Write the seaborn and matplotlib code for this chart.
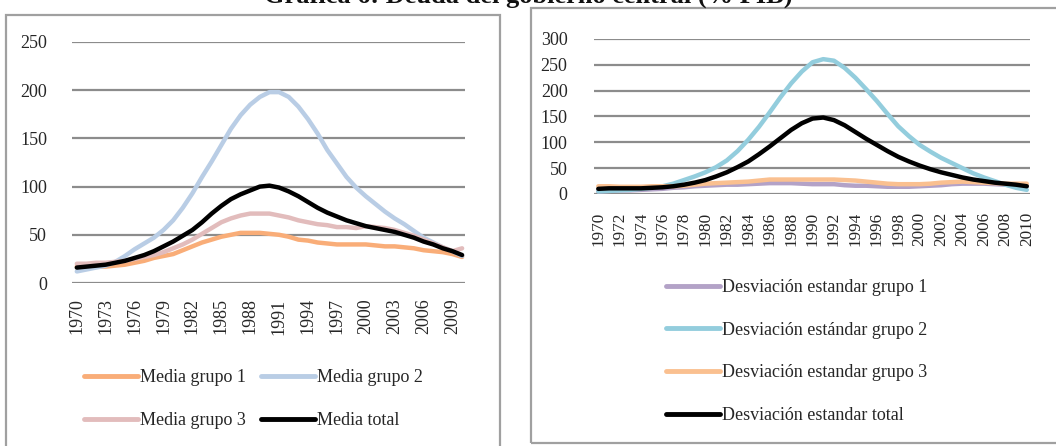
import matplotlib
matplotlib.use("Agg")
import matplotlib.pyplot as plt
import seaborn as sns
from matplotlib.patches import Rectangle
from matplotlib.lines import Line2D

sns.set_style("white")
plt.rcParams['font.family'] = ['Liberation Serif', 'DejaVu Serif']

# datos (1970-2010)
years = list(range(1970, 2011))

media_g1 = [17, 17, 17, 17, 18, 19, 21, 23, 26, 28, 30, 34, 38, 42, 45, 48, 50, 52, 52, 52,
            51, 50, 48, 45, 44, 42, 41, 40, 40, 40, 40, 39, 38, 38, 37, 36, 34, 33, 32, 30, 27]
media_g2 = [12, 14, 16, 18, 22, 28, 35, 41, 47, 55, 65, 78, 93, 110, 126, 143, 160, 174, 185, 193,
            198, 198, 193, 183, 170, 155, 138, 124, 110, 99, 90, 82, 74, 67, 61, 54, 47, 42, 37, 33, 28]
media_g3 = [20, 20, 21, 21, 22, 23, 25, 27, 29, 32, 36, 40, 45, 51, 57, 63, 67, 70, 72, 72,
            72, 70, 68, 65, 63, 61, 60, 58, 58, 57, 59, 58, 57, 55, 52, 49, 45, 41, 37, 33, 36]
media_total = [16, 17, 18, 19, 21, 23, 26, 29, 33, 38, 43, 49, 55, 63, 72, 80, 87, 92, 96, 100,
               101, 99, 95, 90, 84, 78, 73, 69, 65, 62, 59, 57, 55, 53, 50, 47, 43, 40, 36, 33, 29]

sd_g1 = [5, 6, 7, 7, 8, 9, 10, 12, 13, 15, 16, 17, 18, 18, 19, 20, 21, 21, 21, 20,
         19, 19, 19, 17, 16, 16, 15, 14, 14, 14, 15, 16, 17, 19, 20, 20, 20, 19, 18, 16, 15]
sd_g2 = [5, 6, 7, 8, 10, 12, 15, 20, 27, 34, 42, 52, 65, 83, 105, 130, 158, 187, 214, 237,
         255, 261, 258, 244, 225, 203, 180, 155, 131, 112, 95, 82, 70, 60, 50, 40, 32, 25, 18, 12, 8]
sd_g3 = [15, 15, 14, 14, 14, 15, 15, 15, 16, 18, 20, 21, 22, 23, 24, 26, 28, 28, 28, 28,
         28, 28, 28, 27, 26, 24, 22, 20, 19, 19, 19, 20, 22, 23, 24, 23, 22, 21, 20, 20, 20]
sd_total = [10, 11, 11, 11, 11, 12, 13, 15, 18, 22, 27, 34, 42, 52, 63, 77, 92, 108, 124, 137,
            146, 148, 143, 133, 120, 107, 95, 83, 72, 63, 55, 48, 42, 37, 32, 28, 25, 22, 20, 18, 15]

idx = list(range(len(years)))
txt = '#262626'
grid = '#8c8c8c'
fs = 13

fig = plt.figure(figsize=(10.56, 4.46), dpi=100)

# marcos de cada panel
fig.patches.append(Rectangle((6 / 1056, -0.01), 494 / 1056, 1 - 15 / 446 + 0.01,
                             transform=fig.transFigure, fill=False, ec='#a0a0a0', lw=1.6))
fig.patches.append(Rectangle((531 / 1056, 1 - 443 / 446), 540 / 1056, 435 / 446,
                             transform=fig.transFigure, fill=False, ec='#a0a0a0', lw=1.6))

# titulo (cortado arriba como en la imagen original)
fig.text(0.5, 1 - 3 / 446, 'Gráfica 6: Deuda del gobierno central (% PIB)', ha='center',
         va='baseline', fontsize=19, fontweight='bold', color='#111')

ax1 = fig.add_axes([72 / 1056, 1 - 283 / 446, 393 / 1056, 241 / 446])
ax2 = fig.add_axes([594 / 1056, 1 - 194 / 446, 436 / 1056, 155 / 446])

left_series = [(media_g1, '#f9ad78', 'Media grupo 1'),
               (media_g2, '#b9cde5', 'Media grupo 2'),
               (media_g3, '#e2bcbc', 'Media grupo 3'),
               (media_total, '#000000', 'Media total')]
right_series = [(sd_g1, '#b3a2c7', 'Desviación estandar grupo 1'),
                (sd_g2, '#93cddd', 'Desviación estándar grupo 2'),
                (sd_g3, '#fac090', 'Desviación estandar grupo 3'),
                (sd_total, '#000000', 'Desviación estandar total')]

for ax, series in [(ax1, left_series), (ax2, right_series)]:
    for vals, col, lab in series:
        sns.lineplot(x=idx, y=vals, ax=ax, color=col, lw=3.2, solid_capstyle='round')
    for s in ax.spines.values():
        s.set_visible(False)
    ax.grid(axis='y', color=grid, lw=1.6)
    ax.set_axisbelow(True)
    ax.tick_params(length=0, labelsize=fs, colors=txt)

ax1.set_xlim(-0.5, 40.3)
ax1.set_ylim(0, 250)
ax1.set_yticks(range(0, 251, 50))
ax1.set_xticks(idx[::3])
ax1.set_xticklabels([str(y) for y in years[::3]], rotation=90)
ax1.tick_params(axis='y', pad=18)
ax1.tick_params(axis='x', pad=11)

ax2.set_xlim(-0.4, 40.3)
ax2.set_ylim(0, 300)
ax2.set_yticks(range(0, 301, 50))
ax2.set_xticks(idx[::2])
ax2.set_xticklabels([str(y) for y in years[::2]], rotation=90)
ax2.tick_params(axis='y', pad=19)
ax2.tick_params(axis='x', pad=13, labelsize=12.3)

# leyendas
h1 = [Line2D([], [], color=c, lw=3.5, solid_capstyle='round') for _, c, _ in left_series]
l1 = [lab for _, _, lab in left_series]
order = [0, 2, 1, 3]
leg1 = fig.legend([h1[i] for i in order], [l1[i] for i in order], ncol=2, frameon=False,
                  loc='upper left', bbox_to_anchor=(84 / 1056, 1 - 369 / 446),
                  borderaxespad=0, borderpad=0, handlelength=3.0, handletextpad=0.12,
                  columnspacing=0.8, labelspacing=1.45, fontsize=fs)
for t in leg1.get_texts():
    t.set_color(txt)

h2 = [Line2D([], [], color=c, lw=3.5, solid_capstyle='round') for _, c, _ in right_series]
l2 = [lab for _, _, lab in right_series]
leg2 = fig.legend(h2, l2, frameon=False, loc='upper left',
                  bbox_to_anchor=(666 / 1056, 1 - 279 / 446),
                  borderaxespad=0, borderpad=0, handlelength=3.0, handletextpad=0.12,
                  labelspacing=1.42, fontsize=fs)
for t in leg2.get_texts():
    t.set_color(txt)

fig.savefig('out.png', dpi=100)
